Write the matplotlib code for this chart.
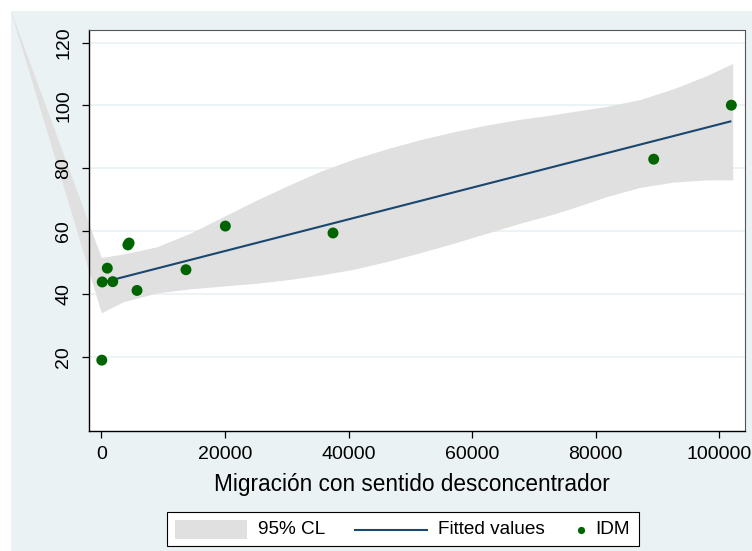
import matplotlib
matplotlib.use('Agg')
import matplotlib.pyplot as plt
from matplotlib.patches import Rectangle
from matplotlib.lines import Line2D
from matplotlib.transforms import Bbox, TransformedBbox

plt.rcParams['font.family'] = ['Liberation Sans', 'DejaVu Sans']

# ---------------- data ----------------
x_label = "Migración con sentido desconcentrador"
legend_labels = ["95% CL", "Fitted values", "IDM"]

idm_x = [80, 150, 970, 1850, 4300, 4500, 5780, 13700, 20070, 37490, 89380, 101940]
idm_y = [18.9, 43.8, 48.2, 43.9, 55.6, 56.2, 41.1, 47.7, 61.6, 59.4, 82.9, 100.1]

fit_x = [80, 101940]
fit_y = [43.6, 95.0]

ci_x = [-14770, 0, 3560, 8960, 14350, 19740, 25140, 30530, 35390, 40780, 46180,
        51570, 56960, 62360, 67750, 72600, 76370, 81770, 87160, 92550, 97950, 102160]
ci_hi = [130.7, 51.6, 52.7, 55.0, 59.3, 64.6, 69.9, 74.8, 79.0, 82.9, 86.2,
         89.1, 91.6, 93.8, 95.6, 96.9, 98.1, 99.7, 101.9, 105.3, 109.5, 113.4]
ci_lo = [130.7, 34.0, 37.5, 40.3, 41.6, 42.5, 43.4, 44.6, 46.0, 47.8, 50.3,
         53.1, 56.1, 59.3, 62.5, 65.1, 67.4, 71.0, 73.9, 75.6, 76.3, 76.3]

x_ticks = [0, 20000, 40000, 60000, 80000, 100000]
y_ticks = [20, 40, 60, 80, 100, 120]

# ---------------- style ----------------
W, H = 752, 551
BG = '#eaf2f3'
BAND = '#e0e0e0'
NAVY = '#1a476f'
GREEN = '#006400'

def fx(px):
    return px / W

def fy(py):
    return 1 - py / H

fig = plt.figure(figsize=(W / 100, H / 100), dpi=100, facecolor='white')
fig.patches.append(Rectangle((fx(11), 0), 1 - fx(11), fy(11), transform=fig.transFigure,
                             facecolor=BG, edgecolor='none', zorder=-10))

ax = fig.add_axes([fx(89), fy(431), (745 - 89) / W, (431 - 30) / H])
ax.set_facecolor('white')
ax.set_xlim(-1990, 104150)
ax.set_ylim(-3.66, 124.04)

for yv in y_ticks:
    ax.axhline(yv, color=BG, lw=1.3, zorder=0.5)

band = ax.fill_between(ci_x, ci_lo, ci_hi, color=BAND, lw=0, zorder=1)
band.set_clip_box(TransformedBbox(Bbox([[fx(11), 0], [1, fy(11)]]), fig.transFigure))

ax.plot(fit_x, fit_y, color=NAVY, lw=1.5, zorder=2, solid_capstyle='butt')
ax.scatter(idm_x, idm_y, s=62, color=GREEN, edgecolors='none', zorder=3)

ax.set_xticks(x_ticks)
ax.set_xticklabels([str(v) for v in x_ticks], fontsize=14)
ax.set_yticks(y_ticks)
ax.set_yticklabels([str(v) for v in y_ticks], rotation=90, va='center', fontsize=14)
ax.tick_params(axis='both', direction='out', length=5, width=0.9, color='black',
               labelcolor='black')
ax.tick_params(axis='x', pad=6)
ax.tick_params(axis='y', pad=7)

for s in ['left', 'bottom']:
    ax.spines[s].set_color('black')
    ax.spines[s].set_linewidth(1.0)
for s in ['top', 'right']:
    ax.spines[s].set_color('#555555')
    ax.spines[s].set_linewidth(0.8)

ax.set_xlabel(x_label, fontsize=16.3)
ax.xaxis.set_label_coords((411.5 - 89) / 656, (431 - 484) / 401)
ax.xaxis.label.set_va('center')

# ---------------- legend ----------------
fig.patches.append(Rectangle((fx(167), fy(546)), (639 - 167) / W, 34 / H,
                             transform=fig.transFigure, facecolor='white',
                             edgecolor='black', lw=0.8, zorder=5))
fig.patches.append(Rectangle((fx(175), fy(539)), 72 / W, 19 / H,
                             transform=fig.transFigure, facecolor=BAND,
                             edgecolor='none', zorder=6))
fig.lines.append(Line2D([fx(355), fx(427)], [fy(529.7), fy(529.7)], color=NAVY, lw=1.5,
                        transform=fig.transFigure, zorder=6))
fig.lines.append(Line2D([fx(580.7)], [fy(529.7)], marker='o', ms=5.2, color=GREEN,
                        markeredgewidth=0, linestyle='none',
                        transform=fig.transFigure, zorder=6))
for lbl, px in zip(legend_labels, [257.7, 438, 595]):
    fig.text(fx(px), fy(530), lbl, ha='left', va='center', fontsize=13.7, zorder=7)

fig.savefig('out.png', dpi=100, facecolor='white')
